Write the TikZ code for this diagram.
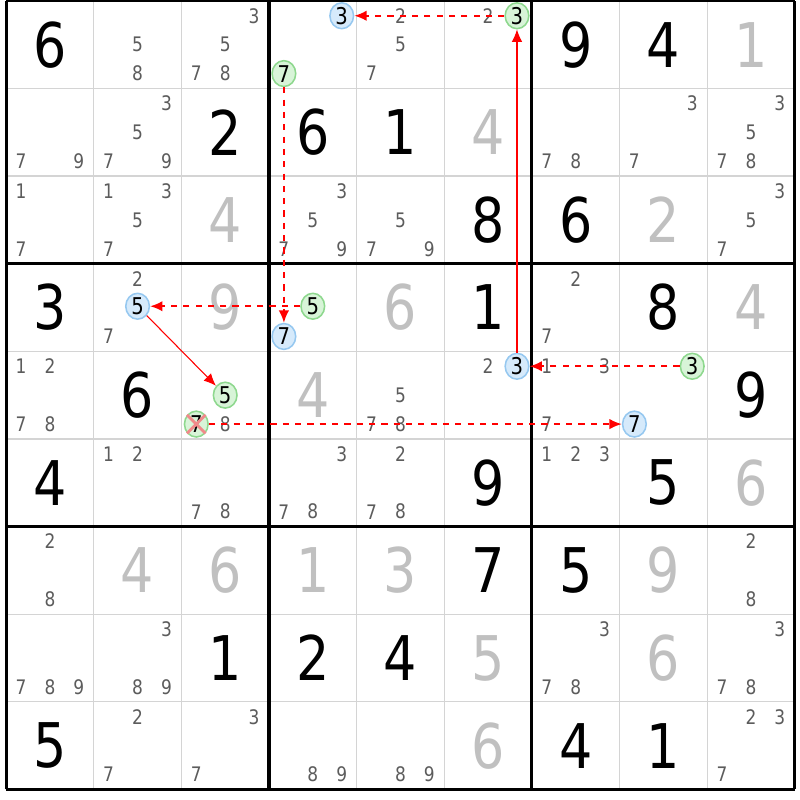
\documentclass[tikz,border=0pt]{standalone}
\usepackage{fontspec}
\setmainfont{DejaVu Sans}[FakeStretch=0.85]
\usetikzlibrary{arrows.meta,shapes.geometric}

\definecolor{candcinza}{HTML}{5C5C5C}
\definecolor{resolcinza}{HTML}{C0C0C0}
\definecolor{gradecinza}{HTML}{D4D4D4}
\definecolor{verdeborda}{HTML}{8ED88E}
\definecolor{verdefundo}{HTML}{D8F4D8}
\definecolor{azulborda}{HTML}{96C8F0}
\definecolor{azulfundo}{HTML}{D6EAFB}
\definecolor{risco}{HTML}{F08A8A}

\begin{document}
\begin{tikzpicture}[>={Latex[length=4pt,width=3.4pt]}]

    % estilos
    \tikzstyle{dado}=[inner sep=0pt, font=\fontsize{20}{20}\selectfont, text=black]
    \tikzstyle{resolvido}=[dado, text=resolcinza]
    \tikzstyle{cand}=[inner sep=0pt, font=\fontsize{6.5}{6.5}\selectfont, text=candcinza]
    \tikzstyle{marca}=[inner sep=0pt, font=\fontsize{7.5}{7.5}\selectfont, ellipse,
                       text=black, line width=0.5pt,
                       minimum width=0.27cm, minimum height=0.295cm]
    \tikzstyle{verde}=[marca, draw=verdeborda, fill=verdefundo]
    \tikzstyle{azul}=[marca, draw=azulborda, fill=azulfundo]
    \tikzstyle{fraca}=[->, red, line width=0.6pt, dash pattern=on 2pt off 2pt]
    \tikzstyle{forte}=[->, red, line width=0.35pt]

    \useasboundingbox[fill=white] (-0.07,-0.12) rectangle (9.06,9.01);

    %======================= GRADE =======================
    \foreach \i in {0,...,9} {
      \draw[gradecinza, line width=0.4pt] (\i,0) -- (\i,9);
      \draw[gradecinza, line width=0.4pt] (0,\i) -- (9,\i);
    }
    \foreach \i in {0,3,6,9} {
      \draw[black, line width=1pt] (\i,0) -- (\i,9);
      \draw[black, line width=1pt] (0,\i) -- (9,\i);
    }

    %======================= DIGITOS =======================
    % dados (pretos)
    \foreach \r/\c/\d in {1/1/6, 1/7/9, 1/8/4, 2/3/2, 2/4/6, 2/5/1, 3/6/8, 3/7/6,
                          4/1/3, 4/6/1, 4/8/8, 5/2/6, 5/9/9, 6/1/4, 6/6/9, 6/8/5,
                          7/6/7, 7/7/5, 8/3/1, 8/4/2, 8/5/4, 9/1/5, 9/7/4, 9/8/1}
      \node[dado] (d-\r-\c) at ({\c-0.5},{9.5-\r}) {\d};

    % resolvidos (cinza)
    \foreach \r/\c/\d in {1/9/1, 2/6/4, 3/3/4, 3/8/2, 4/3/9, 4/5/6, 4/9/4, 5/4/4,
                          6/9/6, 7/2/4, 7/3/6, 7/4/1, 7/5/3, 7/8/9, 8/6/5, 8/8/6, 9/6/6}
      \node[resolvido] (d-\r-\c) at ({\c-0.5},{9.5-\r}) {\d};

    %======================= CANDIDATOS =======================
    \foreach \r/\c/\lista in {1/2/{5,8}, 1/3/{3,5,7,8}, 1/5/{2,5,7}, 1/6/{2},
        2/1/{7,9}, 2/2/{3,5,7,9}, 2/7/{7,8}, 2/8/{3,7}, 2/9/{3,5,7,8},
        3/1/{1,7}, 3/2/{1,3,5,7}, 3/4/{3,5,7,9}, 3/5/{5,7,9}, 3/9/{3,5,7},
        4/2/{2,7}, 4/7/{2,7},
        5/1/{1,2,7,8}, 5/3/{8}, 5/5/{5,7,8}, 5/6/{2}, 5/7/{1,3,7},
        6/2/{1,2}, 6/3/{7,8}, 6/4/{3,7,8}, 6/5/{2,7,8}, 6/7/{1,2,3},
        7/1/{2,8}, 7/9/{2,8},
        8/1/{7,8,9}, 8/2/{3,8,9}, 8/7/{3,7,8}, 8/9/{3,7,8},
        9/2/{2,7}, 9/3/{3,7}, 9/4/{8,9}, 9/5/{8,9}, 9/9/{2,3,7}}
      \foreach \d in \lista {
        \pgfmathsetmacro\dx{(mod(\d-1,3)-1)*0.33}
        \pgfmathsetmacro\dy{(1-int((\d-1)/3))*0.33}
        \node[cand] (k-\r-\c-\d) at ({\c-0.5+\dx},{9.5-\r+\dy}) {\d};
      }

    % candidatos marcados da cadeia
    \node[azul]  (b1) at (3.83,8.83) {3};   % r1c4
    \node[verde] (g1) at (5.83,8.83) {3};   % r1c6
    \node[verde] (g2) at (3.17,8.17) {7};   % r1c4
    \node[azul]  (b2) at (3.17,5.17) {7};   % r4c4
    \node[verde] (g3) at (3.50,5.515) {5};  % r4c4
    \node[azul]  (b3) at (1.50,5.515) {5};  % r4c2
    \node[verde] (g4) at (2.50,4.50) {5};   % r5c3
    \node[verde] (g5) at (2.17,4.17) {7};   % r5c3 (eliminado)
    \node[azul]  (b4) at (5.83,4.83) {3};   % r5c6
    \node[verde] (g6) at (7.83,4.83) {3};   % r5c8
    \node[azul]  (b5) at (7.17,4.17) {7};   % r5c8

    % eliminacao
    \draw[risco, line width=0.9pt] (g5.135) -- (g5.-45);
    \draw[risco, line width=0.9pt] (g5.45) -- (g5.-135);

    %======================= CADEIA =======================
    \draw[forte] (b4) -- (g1);
    \draw[fraca] (g1) -- (b1);
    \draw[fraca] (g2) -- (b2);
    \draw[fraca] (g3) -- (b3);
    \draw[forte] (b3) -- (g4);
    \draw[fraca] (g6) -- (b4);
    \draw[fraca] (g5) -- (b5);

\end{tikzpicture}
\end{document}
